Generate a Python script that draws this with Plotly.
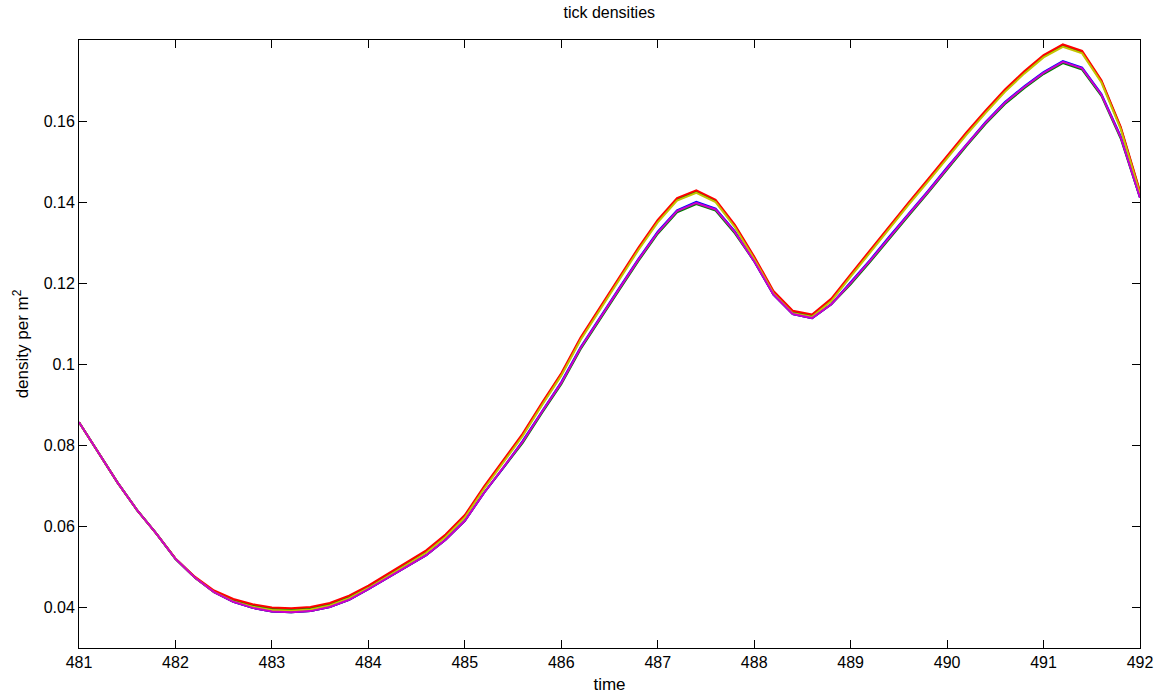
import plotly.graph_objects as go

time = [481.0, 481.2, 481.4, 481.6, 481.8, 482.0, 482.2, 482.4, 482.6, 482.8,
        483.0, 483.2, 483.4, 483.6, 483.8, 484.0, 484.2, 484.4, 484.6, 484.8,
        485.0, 485.2, 485.4, 485.6, 485.8, 486.0, 486.2, 486.4, 486.6, 486.8,
        487.0, 487.2, 487.4, 487.6, 487.8, 488.0, 488.2, 488.4, 488.6, 488.8,
        489.0, 489.2, 489.4, 489.6, 489.8, 490.0, 490.2, 490.4, 490.6, 490.8,
        491.0, 491.2, 491.4, 491.6, 491.8, 492.0]

red = [0.0857, 0.0781, 0.0708, 0.0641, 0.0583, 0.0521, 0.0476, 0.0442, 0.0421, 0.0408,
       0.0400, 0.0398, 0.0401, 0.0411, 0.0429, 0.0454, 0.0483, 0.0512, 0.0541, 0.0580,
       0.0628, 0.0699, 0.0763, 0.0829, 0.0905, 0.0978, 0.1066, 0.1141, 0.1214, 0.1288,
       0.1356, 0.1410, 0.1429, 0.1406, 0.1344, 0.1266, 0.1181, 0.1132, 0.1123, 0.1162,
       0.1222, 0.1281, 0.1341, 0.1399, 0.1456, 0.1515, 0.1572, 0.1626, 0.1678, 0.1723,
       0.1763, 0.1789, 0.1773, 0.1701, 0.1586, 0.1427]

green_upper = [0.0857, 0.0781, 0.0708, 0.0641, 0.0583, 0.0520, 0.0474, 0.0439, 0.0418, 0.0405,
               0.0397, 0.0395, 0.0398, 0.0408, 0.0426, 0.0451, 0.0480, 0.0509, 0.0538, 0.0577,
               0.0625, 0.0696, 0.0760, 0.0826, 0.0902, 0.0975, 0.1063, 0.1138, 0.1211, 0.1285,
               0.1353, 0.1407, 0.1426, 0.1403, 0.1341, 0.1263, 0.1178, 0.1129, 0.1120, 0.1159,
               0.1219, 0.1278, 0.1338, 0.1396, 0.1453, 0.1512, 0.1569, 0.1623, 0.1675, 0.1720,
               0.1760, 0.1786, 0.1770, 0.1698, 0.1583, 0.1424]

yellow = [0.0857, 0.0781, 0.0708, 0.0641, 0.0583, 0.0520, 0.0474, 0.0438, 0.0415, 0.0402,
          0.0394, 0.0392, 0.0395, 0.0405, 0.0423, 0.0448, 0.0477, 0.0506, 0.0535, 0.0574,
          0.0622, 0.0693, 0.0757, 0.0823, 0.0899, 0.0972, 0.1060, 0.1135, 0.1208, 0.1282,
          0.1350, 0.1404, 0.1423, 0.1400, 0.1338, 0.1260, 0.1175, 0.1126, 0.1117, 0.1156,
          0.1216, 0.1275, 0.1335, 0.1393, 0.1450, 0.1509, 0.1566, 0.1620, 0.1672, 0.1717,
          0.1757, 0.1783, 0.1767, 0.1695, 0.1580, 0.1421]

blue = [0.0857, 0.0781, 0.0708, 0.0641, 0.0583, 0.0520, 0.0474, 0.0438, 0.0414, 0.0399,
        0.0390, 0.0388, 0.0391, 0.0401, 0.0419, 0.0445, 0.0473, 0.0501, 0.0529, 0.0567,
        0.0614, 0.0683, 0.0745, 0.0811, 0.0885, 0.0956, 0.1042, 0.1116, 0.1188, 0.1260,
        0.1327, 0.1380, 0.1401, 0.1384, 0.1328, 0.1254, 0.1172, 0.1124, 0.1114, 0.1148,
        0.1202, 0.1257, 0.1315, 0.1371, 0.1427, 0.1486, 0.1543, 0.1598, 0.1647, 0.1686,
        0.1721, 0.1748, 0.1732, 0.1667, 0.1562, 0.1411]

green_lower = [0.0857, 0.0781, 0.0708, 0.0641, 0.0583, 0.0520, 0.0474, 0.0438, 0.0414, 0.0399,
               0.0390, 0.0388, 0.0391, 0.0401, 0.0419, 0.0445, 0.0473, 0.0501, 0.0529, 0.0567,
               0.0614, 0.0683, 0.0745, 0.0806, 0.0880, 0.0951, 0.1037, 0.1111, 0.1183, 0.1255,
               0.1322, 0.1375, 0.1395, 0.1379, 0.1323, 0.1254, 0.1172, 0.1124, 0.1114, 0.1148,
               0.1197, 0.1252, 0.1310, 0.1366, 0.1422, 0.1481, 0.1538, 0.1593, 0.1642, 0.1681,
               0.1716, 0.1743, 0.1727, 0.1662, 0.1557, 0.1411]

magenta = [0.0857, 0.0781, 0.0708, 0.0641, 0.0583, 0.0520, 0.0474, 0.0438, 0.0414, 0.0399,
           0.0390, 0.0388, 0.0391, 0.0401, 0.0419, 0.0445, 0.0473, 0.0501, 0.0529, 0.0567,
           0.0614, 0.0683, 0.0745, 0.0809, 0.0883, 0.0954, 0.1040, 0.1114, 0.1186, 0.1258,
           0.1325, 0.1378, 0.1398, 0.1382, 0.1326, 0.1254, 0.1172, 0.1124, 0.1114, 0.1148,
           0.1200, 0.1255, 0.1313, 0.1369, 0.1425, 0.1484, 0.1541, 0.1596, 0.1645, 0.1684,
           0.1719, 0.1746, 0.1730, 0.1665, 0.1560, 0.1411]

x_ticks = [481, 482, 483, 484, 485, 486, 487, 488, 489, 490, 491, 492]
y_ticks = [0.04, 0.06, 0.08, 0.10, 0.12, 0.14, 0.16]
y_tick_labels = ["0.04", "0.06", "0.08", "0.1", "0.12", "0.14", "0.16"]

series = [
    ("green (lower)", green_lower, "#008000"),
    ("blue", blue, "#0000ff"),
    ("green (upper)", green_upper, "#008000"),
    ("red", red, "#ff0000"),
    ("yellow", yellow, "#c4c400"),
    ("magenta", magenta, "#cc00cc"),
]

fig = go.Figure()
for name, vals, col in series:
    fig.add_trace(go.Scatter(x=time, y=vals, mode="lines", name=name,
                             line=dict(color=col, width=2)))

font = "Liberation Sans, Arial, Helvetica, sans-serif"
fig.update_layout(
    width=1166, height=694,
    margin=dict(l=79, r=26, t=40, b=46),
    paper_bgcolor="white", plot_bgcolor="white",
    showlegend=False,
    font=dict(family=font, size=16, color="black"),
    title=dict(text="tick densities", x=0.5225, xanchor="center", y=0.99, yanchor="top",
               font=dict(size=16, family=font, color="black")),
)
fig.update_xaxes(
    range=[481, 492], tickvals=x_ticks, ticktext=[str(t) for t in x_ticks],
    ticks="inside", ticklen=8, tickcolor="black", showline=True, linecolor="black",
    linewidth=1, mirror="ticks", showgrid=False, zeroline=False, automargin=False,
    title=dict(text="time", standoff=9, font=dict(size=17)),
    tickfont=dict(size=16),
)
fig.update_yaxes(
    range=[0.03, 0.18], tickvals=y_ticks, ticktext=y_tick_labels,
    ticks="inside", ticklen=8, tickcolor="black", showline=True, linecolor="black",
    linewidth=1, mirror="ticks", showgrid=False, zeroline=False, automargin=False,
    title=dict(text="density per m<sup>2</sup>", standoff=10, font=dict(size=17)),
    tickfont=dict(size=16),
)

fig.write_html("out.html")
